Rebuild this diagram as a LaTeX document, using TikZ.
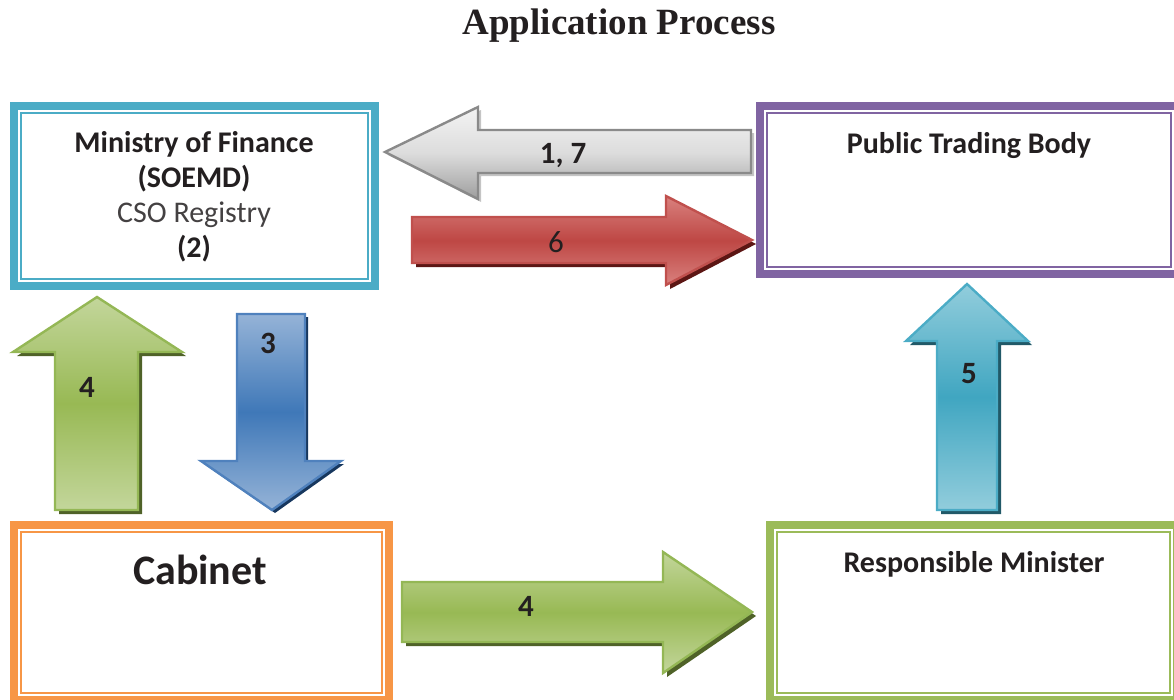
\documentclass[tikz,border=0pt]{standalone}
\usepackage{fontspec}
\setmainfont{Carlito}
\newfontfamily\titlefont{Liberation Serif}
\definecolor{ink}{HTML}{231F20}
% frame colours
\definecolor{tealframe}{HTML}{4BACC6}
\definecolor{purpleframe}{HTML}{8064A2}
\definecolor{orangeframe}{HTML}{F79646}
\definecolor{greenframe}{HTML}{9BBB59}
% block arrow colours
\definecolor{grayLight}{HTML}{F4F4F4}
\definecolor{grayMid}{HTML}{DCDCDC}
\definecolor{grayDark}{HTML}{9E9E9E}
\definecolor{grayEdge}{HTML}{8A8A8A}
\definecolor{grayShadow}{HTML}{C4C4C4}
\definecolor{redLight}{HTML}{D9817E}
\definecolor{redMid}{HTML}{BE4744}
\definecolor{redEdge}{HTML}{C0504D}
\definecolor{redShadow}{HTML}{5C1614}
\definecolor{greenLight}{HTML}{C3D69B}
\definecolor{greenMid}{HTML}{98B954}
\definecolor{greenEdge}{HTML}{94B755}
\definecolor{greenShadow}{HTML}{4F6228}
\definecolor{blueLight}{HTML}{95B3D7}
\definecolor{blueMid}{HTML}{3F78B8}
\definecolor{blueEdge}{HTML}{4F81BD}
\definecolor{blueShadow}{HTML}{17375E}
\definecolor{tealLight}{HTML}{92CDDC}
\definecolor{tealMid}{HTML}{40A6C1}
\definecolor{tealEdge}{HTML}{4BACC6}
\definecolor{tealShadow}{HTML}{215968}
\begin{document}
\begin{tikzpicture}[x=1pt,y=-1pt,
  txt/.style={text=ink, inner sep=0pt, anchor=base},
  boxtxt/.style={txt, font=\fontsize{30}{36}\selectfont\bfseries},
  lbl/.style={txt, font=\fontsize{31}{31}\selectfont\bfseries},
  outerframe/.style={line width=8pt, inner sep=0pt, outer sep=0pt, fill=white},
  innerframe/.style={line width=2pt},
  arrowline/.style={line width=2.4pt, line join=miter},
  grayarrow/.style={arrowline, draw=grayEdge, top color=grayLight, bottom color=grayDark, middle color=grayMid},
  redarrow/.style={arrowline, draw=redEdge, top color=redLight, bottom color=redLight, middle color=redMid},
  greenarrow/.style={arrowline, draw=greenEdge, top color=greenLight, bottom color=greenLight, middle color=greenMid},
  bluearrow/.style={arrowline, draw=blueEdge, top color=blueLight, bottom color=blueLight, middle color=blueMid},
  tealarrow/.style={arrowline, draw=tealEdge, top color=tealLight, bottom color=tealLight, middle color=tealMid},
]
\useasboundingbox (0,0) rectangle (1174,699);
\clip (0,0) rectangle (1174,699);

% title
\node[txt, font=\titlefont\fontsize{37}{37}\selectfont\bfseries] (title) at (619,34) {Application Process};

% framed boxes: thick outer border with a thin inner rule
\node[outerframe, draw=tealframe, minimum width=361pt, minimum height=180pt] (mof) at (194.5,196) {};
\draw[innerframe, tealframe] ([shift={(7,7)}]mof.north west) rectangle ([shift={(-7,-7)}]mof.south east);

\node[outerframe, draw=purpleframe, minimum width=418pt, minimum height=168pt] (ptb) at (969,190) {};
\draw[innerframe, purpleframe] ([shift={(7,7)}]ptb.north west) rectangle ([shift={(-7,-7)}]ptb.south east);

\node[outerframe, draw=orangeframe, minimum width=375pt, minimum height=175pt] (cab) at (201.5,612.5) {};
\draw[innerframe, orangeframe] ([shift={(7,7)}]cab.north west) rectangle ([shift={(-7,-7)}]cab.south east);

\node[outerframe, draw=greenframe, minimum width=407pt, minimum height=175pt] (rmin) at (973.5,612.5) {};
\draw[innerframe, greenframe] ([shift={(7,7)}]rmin.north west) rectangle ([shift={(-7,-7)}]rmin.south east);

% box texts
\node[boxtxt] (mof1) at (194,152) {Ministry of Finance};
\node[boxtxt] (mof2) at (194,187) {(SOEMD)};
\node[txt, font=\fontsize{30}{36}\selectfont, text=ink!85] (mof3) at (194,222) {CSO Registry};
\node[boxtxt] (mof4) at (194,257) {(2)};
\node[boxtxt] (ptbtxt) at (969,153) {Public Trading Body};
\node[txt, font=\fontsize{42}{42}\selectfont\bfseries] (cabtxt) at (200,584) {Cabinet};
\node[boxtxt] (rmintxt) at (974,572) {Responsible Minister};

% arrow 1, 7 (to the ministry)
\fill[grayShadow] (388,155) -- (481,110) -- (481,133) -- (754,133) -- (754,176) -- (481,176) -- (481,202) -- cycle;
\path[grayarrow] (385,152) -- (478,107) -- (478,130) -- (751,130) -- (751,173) -- (478,173) -- (478,199) -- cycle;
\node[lbl] (l17) at (563,163) {1, 7};

% arrow 6 (to the trading body)
\fill[redShadow] (416,221) -- (670,221) -- (670,200) -- (756,244) -- (670,289) -- (670,267) -- (416,267) -- cycle;
\path[redarrow] (412,217) -- (666,217) -- (666,196) -- (752,240) -- (666,285) -- (666,263) -- (412,263) -- cycle;
\node[txt, font=\fontsize{31}{31}\selectfont] (l6) at (556,252) {6};

% arrow 4 (cabinet up to the ministry)
\fill[greenShadow] (101,301) -- (186,356) -- (142,356) -- (142,514) -- (59,514) -- (59,356) -- (17,356) -- cycle;
\path[greenarrow] (97,297) -- (182,352) -- (138,352) -- (138,510) -- (55,510) -- (55,352) -- (13,352) -- cycle;
\node[lbl] (l4a) at (87,397) {4};

% arrow 3 (ministry down to the cabinet)
\fill[blueShadow] (240,317) -- (308,317) -- (308,464) -- (344,464) -- (275,513) -- (204,464) -- (240,464) -- cycle;
\path[bluearrow] (237,314) -- (305,314) -- (305,461) -- (341,461) -- (272,510) -- (201,461) -- (237,461) -- cycle;
\node[lbl] (l3) at (268,353) {3};

% arrow 5 (minister up to the trading body)
\fill[tealShadow] (971,288) -- (1032,345) -- (1001,345) -- (1001,514) -- (941,514) -- (941,345) -- (910,345) -- cycle;
\path[tealarrow] (967,284) -- (1028,341) -- (997,341) -- (997,510) -- (937,510) -- (937,341) -- (906,341) -- cycle;
\node[lbl] (l5) at (969,383) {5};

% arrow 4 (cabinet to the minister)
\fill[greenShadow] (406,586) -- (667,586) -- (667,556) -- (756,616) -- (667,677) -- (667,646) -- (406,646) -- cycle;
\path[greenarrow] (402,582) -- (663,582) -- (663,552) -- (752,612) -- (663,673) -- (663,642) -- (402,642) -- cycle;
\node[lbl] (l4b) at (526,616) {4};
\end{tikzpicture}
\end{document}
